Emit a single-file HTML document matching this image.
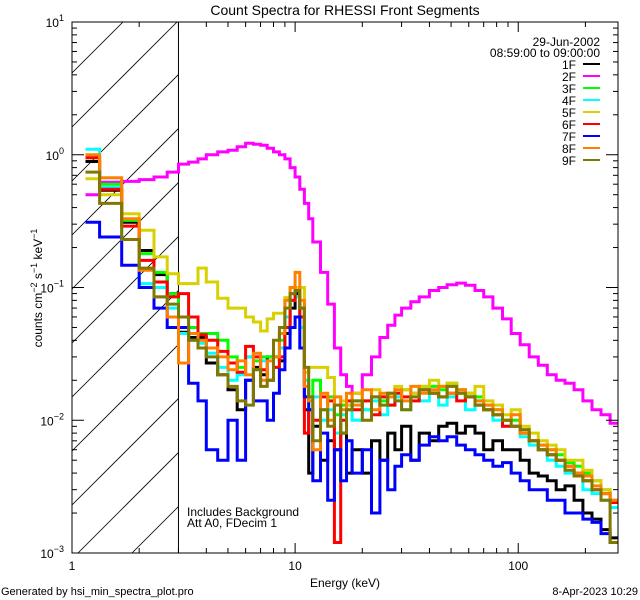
<!DOCTYPE html>
<html><head><meta charset="utf-8"><style>
html,body{margin:0;padding:0;background:#fff;width:640px;height:600px;overflow:hidden}
svg{display:block;font-family:"Liberation Sans",sans-serif}
text{font-size:12px;fill:#000}
</style></head><body>
<svg id="chart" width="640" height="600" viewBox="0 0 640 600" xmlns="http://www.w3.org/2000/svg">
<rect width="640" height="600" fill="#fff"/>
<text x="345" y="15" text-anchor="middle" font-size="14" style="font-size:14px">Count Spectra for RHESSI Front Segments</text>
<g id="hatch"></g>
<g id="series"></g>
<g id="axes"></g>
<g id="legend">
<text x="600" y="46" text-anchor="end">29-Jun-2002</text>
<text x="600" y="57" text-anchor="end">08:59:00 to 09:00:00</text>
</g>
<text x="187" y="516">Includes Background</text>
<text x="187" y="527">Att A0, FDecim 1</text>
<text x="345" y="587" text-anchor="middle">Energy (keV)</text>
<text x="1" y="595" style="font-size:11px">Generated by hsi_min_spectra_plot.pro</text>
<text x="638" y="595" text-anchor="end" style="font-size:11px">8-Apr-2023 10:29</text>
<text transform="translate(42,288) rotate(-90)" text-anchor="middle">counts cm<tspan dy="-5" font-size="9">−2</tspan><tspan dy="5"> s</tspan><tspan dy="-5" font-size="9">−1</tspan><tspan dy="5"> keV</tspan><tspan dy="-5" font-size="9">−1</tspan></text>
</svg>
<script>
const energyEdges=[1.15,1.33,1.67,2.0,2.33,2.67,3.0,3.33,3.67,4.0,4.5,5.0,5.5,6.0,6.5,7.0,7.5,8.0,8.5,9.0,9.5,10,10.5,11,11.5,12,13,14,15,16,17,18,20,22,24,26,28,30,33,36,40,44,48,53,58,64,70,77,85,93,102,112,123,135,148,162,178,195,214,235,258,280];
const seriesNames=["1F","2F","3F","4F","5F","6F","7F","8F","9F"];
const seriesColors=["#000000","#ff00ff","#00ff00","#00ffff","#d8d000","#ff0000","#0000ff","#ff8000","#807800"];
const s1F=[.89,.54,.31,.19,.125,.09,.046,.042,.042,.027,.022,.017,.012,.02,.025,.022,.03,.03,.028,.045,.07,.09,.07,.012,.004,.009,.005,.007,.006,.008,.004,.006,.004,.007,.005,.008,.006,.009,.005,.008,.007,.009,.0095,.008,.009,.008,.006,.007,.006,.006,.005,.004,.0038,.0035,.003,.0032,.0025,.002,.0018,.0015,.0013];
const s2F=[.50,.62,.63,.65,.68,.74,.85,.88,.93,1.0,1.05,1.08,1.15,1.22,1.2,1.18,1.12,1.05,1.0,.93,.8,.68,.55,.43,.33,.22,.13,.075,.035,.022,.018,.016,.022,.03,.042,.052,.062,.07,.078,.085,.095,.10,.105,.108,.104,.095,.085,.07,.058,.045,.037,.03,.026,.022,.02,.019,.017,.014,.012,.011,.0095];
const s3F=[.95,.6,.32,.18,.13,.09,.06,.05,.045,.045,.04,.03,.025,.03,.028,.03,.03,.03,.04,.06,.09,.1,.06,.02,.015,.02,.012,.015,.011,.013,.012,.014,.012,.015,.014,.016,.015,.017,.016,.018,.018,.017,.019,.016,.016,.015,.013,.012,.01,.01,.008,.007,.0065,.006,.0055,.0048,.0045,.004,.0035,.003,.0025];
const s4F=[1.1,.57,.23,.107,.1,.07,.045,.04,.038,.032,.025,.02,.022,.03,.024,.028,.02,.025,.035,.06,.08,.085,.05,.02,.012,.015,.01,.012,.008,.011,.013,.01,.012,.014,.011,.013,.015,.012,.016,.014,.016,.013,.015,.017,.012,.014,.012,.01,.009,.009,.0075,.0065,.006,.005,.0045,.004,.0038,.003,.0028,.0025,.0022];
const s5F=[.66,.50,.36,.27,.17,.127,.107,.107,.14,.11,.083,.07,.07,.06,.055,.047,.058,.064,.064,.084,.1,.1,.1,.023,.025,.025,.025,.021,.015,.014,.013,.016,.014,.017,.015,.016,.018,.017,.016,.018,.02,.018,.019,.017,.016,.018,.014,.013,.011,.012,.009,.008,.007,.0065,.006,.005,.005,.0042,.0035,.003,.0025];
const s6F=[.95,.55,.29,.16,.11,.085,.09,.06,.044,.04,.033,.027,.023,.036,.03,.024,.02,.025,.03,.05,.08,.095,.06,.008,.012,.01,.015,.014,.0012,.01,.014,.012,.014,.011,.015,.013,.016,.015,.014,.017,.016,.015,.016,.014,.015,.013,.012,.011,.009,.009,.008,.007,.006,.0055,.005,.0045,.004,.0035,.003,.0028,.0024];
const s7F=[.31,.24,.147,.10,.07,.05,.05,.019,.014,.006,.005,.01,.005,.02,.014,.014,.01,.016,.024,.035,.05,.06,.035,.015,.012,.0035,.008,.0025,.006,.0035,.007,.004,.006,.002,.005,.003,.0045,.0055,.005,.0065,.0075,.007,.0075,.0065,.006,.0055,.005,.0045,.0048,.004,.0035,.003,.003,.0025,.0025,.002,.002,.0018,.0017,.0014,.0012];
const s8F=[1.0,.67,.33,.135,.085,.06,.027,.045,.04,.035,.03,.024,.028,.022,.032,.02,.028,.03,.045,.08,.1,.13,.08,.018,.014,.006,.016,.01,.015,.012,.016,.013,.017,.012,.016,.015,.017,.014,.018,.016,.017,.018,.016,.017,.015,.014,.013,.012,.01,.011,.008,.007,.0065,.006,.005,.0045,.004,.0038,.0032,.0028,.0025];
const s9F=[.74,.43,.23,.14,.085,.075,.06,.04,.035,.03,.022,.018,.014,.013,.024,.018,.02,.04,.05,.07,.09,.095,.07,.025,.015,.007,.012,.009,.013,.008,.012,.014,.01,.015,.013,.016,.014,.012,.015,.017,.016,.015,.018,.016,.015,.013,.012,.011,.01,.009,.0085,.007,.006,.0055,.005,.0042,.0038,.0035,.003,.0025,.0012];
const seriesValues=[s1F,s2F,s3F,s4F,s5F,s6F,s7F,s8F,s9F];
const xTickMajor=[1,10,100];
const xTickLabels=["1","10","100"];
const yTickExps=[1,0,-1,-2,-3];

const NS="http://www.w3.org/2000/svg";
const L=72,R=618,T=22,B=553;
const xMin=1,xMax=280,yMin=1e-3,yMax=10;
function xs(e){return L+(Math.log10(e)-Math.log10(xMin))/(Math.log10(xMax)-Math.log10(xMin))*(R-L);}
function ys(v){return B-(Math.log10(v)-Math.log10(yMin))/(Math.log10(yMax)-Math.log10(yMin))*(B-T);}
function mk(tag,attrs,parent){const el=document.createElementNS(NS,tag);for(const k in attrs)el.setAttribute(k,attrs[k]);parent.appendChild(el);return el;}

// hatch
const hatch=document.getElementById('hatch');
const hx=xs(3);
mk('clipPath',{id:'hclip'},hatch).appendChild((()=>{const r=document.createElementNS(NS,'rect');r.setAttribute('x',L);r.setAttribute('y',T);r.setAttribute('width',hx-L);r.setAttribute('height',B-T);return r;})());
const hg=mk('g',{'clip-path':'url(#hclip)'},hatch);
for(let y0=B+60;y0>T-200;y0-=54){mk('line',{x1:L,y1:y0+140-140,x2:L+400,y2:y0-400,stroke:'#000','stroke-width':0.8},hg);}
const vl=mk('line',{x1:hx,y1:T,x2:hx,y2:B,stroke:'#000','stroke-width':1},hatch);



// series
const sg=document.getElementById('series');
mk('clipPath',{id:'pclip'},sg).appendChild((()=>{const r=document.createElementNS(NS,'rect');r.setAttribute('x',L);r.setAttribute('y',T);r.setAttribute('width',R-L);r.setAttribute('height',B-T);return r;})());
const sgc=mk('g',{'clip-path':'url(#pclip)'},sg);
seriesValues.forEach((vals,si)=>{
  let d='';
  vals.forEach((v,i)=>{
    const x0=xs(energyEdges[i]),x1=xs(energyEdges[i+1]),y=ys(v);
    d+=(i===0?'M':'L')+x0.toFixed(1)+','+y.toFixed(1)+'L'+x1.toFixed(1)+','+y.toFixed(1);
  });
  const p=mk('path',{d:d,fill:'none',stroke:seriesColors[si],'stroke-width':3,'stroke-linejoin':'miter'},sgc);
  
  
});

// axes
const ax=document.getElementById('axes');
const frame=mk('rect',{x:L,y:T,width:R-L,height:B-T,fill:'none',stroke:'#000','stroke-width':1},ax);


for(let dec=0;dec<3;dec++){
  for(let m=1;m<10;m++){
    const e=Math.pow(10,dec)*m; if(e>xMax)break;
    const x=xs(e),len=m===1?10:5;
    mk('line',{x1:x,y1:B,x2:x,y2:B-len,stroke:'#000'},ax);
    mk('line',{x1:x,y1:T,x2:x,y2:T+len,stroke:'#000'},ax);
  }
}
xTickMajor.forEach((e,i)=>{
  const t=mk('text',{x:xs(e),y:B+17,'text-anchor':'middle'},ax);
  t.textContent=xTickLabels[i];
  
  
});
for(let p=-3;p<1;p++){
  for(let m=1;m<10;m++){
    const v=Math.pow(10,p)*m,y=ys(v),len=m===1?12:5;
    mk('line',{x1:L,y1:y,x2:L+len,y2:y,stroke:'#000'},ax);
    mk('line',{x1:R,y1:y,x2:R-len,y2:y,stroke:'#000'},ax);
  }
}
yTickExps.forEach(p=>{
  const y=ys(Math.pow(10,p));
  const t=mk('text',{x:64,y:y+5,'text-anchor':'end'},ax);
  
  
  const a=document.createElementNS(NS,'tspan');a.textContent='10';t.appendChild(a);
  const b=document.createElementNS(NS,'tspan');b.setAttribute('dy','-6');b.setAttribute('font-size','9');b.textContent=(p<0?'−':'')+Math.abs(p);t.appendChild(b);
});

// legend
const lg=document.getElementById('legend');
seriesNames.forEach((n,i)=>{
  const y=64+i*12;
  const t=mk('text',{x:576,y:y+5,'text-anchor':'end'},lg);
  t.textContent=n;
  
  
  const l=mk('line',{x1:583,y1:y,x2:600,y2:y,stroke:seriesColors[i],'stroke-width':2},lg);
  
  
});
</script>
</body></html>
